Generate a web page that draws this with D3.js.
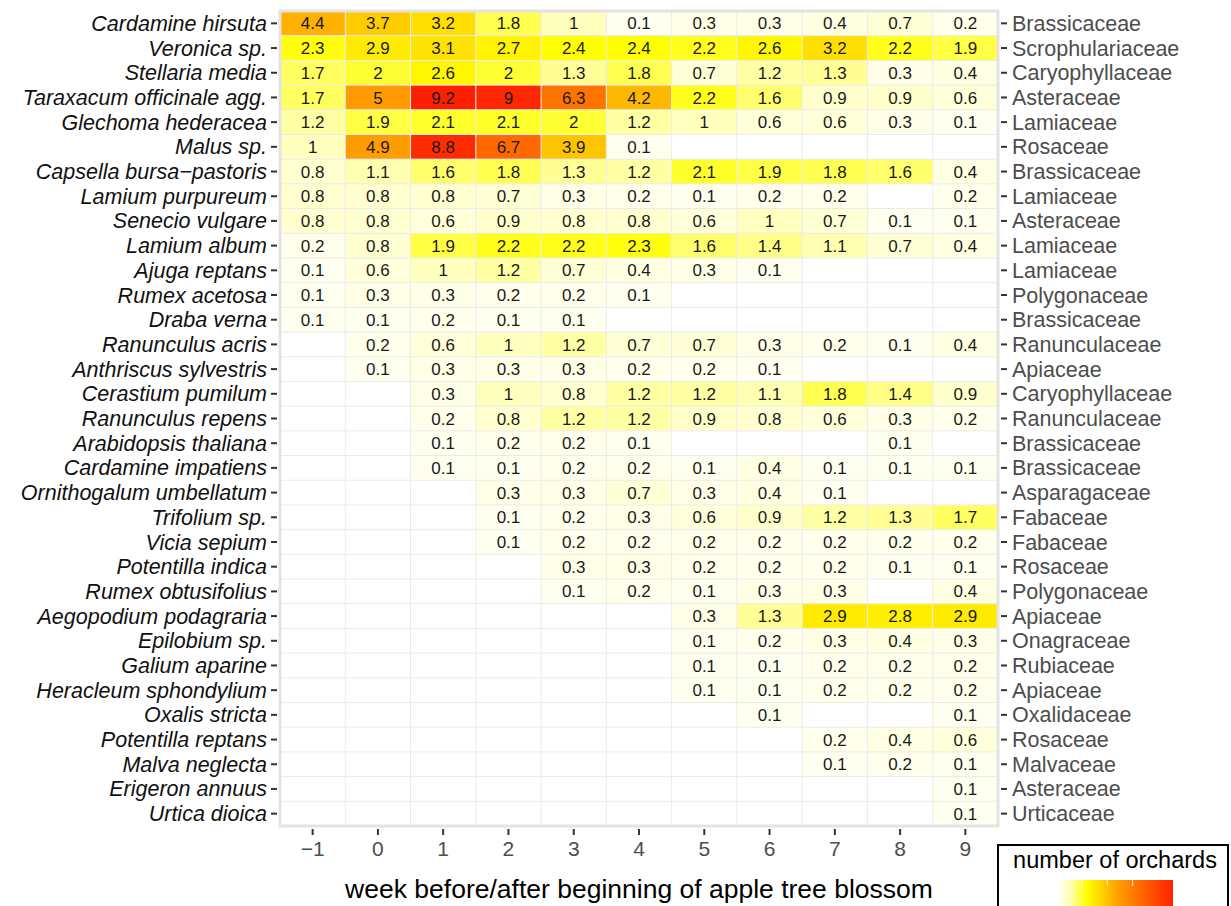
<!DOCTYPE html>
<html>
<head>
<meta charset="utf-8">
<script src="https://cdn.jsdelivr.net/npm/d3@7"></script>
<style>
    body { margin: 0; background: #fff; }
    svg { display: block; font-family: "Liberation Sans", Arial, sans-serif; }
    .species-label { font-style: italic; fill: #111111; }
    .family-label { fill: #4d4d4d; }
    .cell-label { fill: #1a1a1a; }
</style>
</head>
<body>
<div id="chart-area"></div>
<script>

// weeks relative to the beginning of apple tree blossom
const weeks = [-1, 0, 1, 2, 3, 4, 5, 6, 7, 8, 9];

const species = [
    "Cardamine hirsuta", "Veronica sp.", "Stellaria media", "Taraxacum officinale agg.",
    "Glechoma hederacea", "Malus sp.", "Capsella bursa\u2212pastoris", "Lamium purpureum",
    "Senecio vulgare", "Lamium album", "Ajuga reptans", "Rumex acetosa", "Draba verna",
    "Ranunculus acris", "Anthriscus sylvestris", "Cerastium pumilum", "Ranunculus repens",
    "Arabidopsis thaliana", "Cardamine impatiens", "Ornithogalum umbellatum", "Trifolium sp.",
    "Vicia sepium", "Potentilla indica", "Rumex obtusifolius", "Aegopodium podagraria",
    "Epilobium sp.", "Galium aparine", "Heracleum sphondylium", "Oxalis stricta",
    "Potentilla reptans", "Malva neglecta", "Erigeron annuus", "Urtica dioica"
];

const families = [
    "Brassicaceae", "Scrophulariaceae", "Caryophyllaceae", "Asteraceae",
    "Lamiaceae", "Rosaceae", "Brassicaceae", "Lamiaceae",
    "Asteraceae", "Lamiaceae", "Lamiaceae", "Polygonaceae", "Brassicaceae",
    "Ranunculaceae", "Apiaceae", "Caryophyllaceae", "Ranunculaceae",
    "Brassicaceae", "Brassicaceae", "Asparagaceae", "Fabaceae",
    "Fabaceae", "Rosaceae", "Polygonaceae", "Apiaceae",
    "Onagraceae", "Rubiaceae", "Apiaceae", "Oxalidaceae",
    "Rosaceae", "Malvaceae", "Asteraceae", "Urticaceae"
];

// mean number of orchards per species and week (null = not recorded)
const n = null;
const orchards = [
    [4.4, 3.7, 3.2, 1.8, 1, 0.1, 0.3, 0.3, 0.4, 0.7, 0.2],
    [2.3, 2.9, 3.1, 2.7, 2.4, 2.4, 2.2, 2.6, 3.2, 2.2, 1.9],
    [1.7, 2, 2.6, 2, 1.3, 1.8, 0.7, 1.2, 1.3, 0.3, 0.4],
    [1.7, 5, 9.2, 9, 6.3, 4.2, 2.2, 1.6, 0.9, 0.9, 0.6],
    [1.2, 1.9, 2.1, 2.1, 2, 1.2, 1, 0.6, 0.6, 0.3, 0.1],
    [1, 4.9, 8.8, 6.7, 3.9, 0.1, n, n, n, n, n],
    [0.8, 1.1, 1.6, 1.8, 1.3, 1.2, 2.1, 1.9, 1.8, 1.6, 0.4],
    [0.8, 0.8, 0.8, 0.7, 0.3, 0.2, 0.1, 0.2, 0.2, n, 0.2],
    [0.8, 0.8, 0.6, 0.9, 0.8, 0.8, 0.6, 1, 0.7, 0.1, 0.1],
    [0.2, 0.8, 1.9, 2.2, 2.2, 2.3, 1.6, 1.4, 1.1, 0.7, 0.4],
    [0.1, 0.6, 1, 1.2, 0.7, 0.4, 0.3, 0.1, n, n, n],
    [0.1, 0.3, 0.3, 0.2, 0.2, 0.1, n, n, n, n, n],
    [0.1, 0.1, 0.2, 0.1, 0.1, n, n, n, n, n, n],
    [n, 0.2, 0.6, 1, 1.2, 0.7, 0.7, 0.3, 0.2, 0.1, 0.4],
    [n, 0.1, 0.3, 0.3, 0.3, 0.2, 0.2, 0.1, n, n, n],
    [n, n, 0.3, 1, 0.8, 1.2, 1.2, 1.1, 1.8, 1.4, 0.9],
    [n, n, 0.2, 0.8, 1.2, 1.2, 0.9, 0.8, 0.6, 0.3, 0.2],
    [n, n, 0.1, 0.2, 0.2, 0.1, n, n, n, 0.1, n],
    [n, n, 0.1, 0.1, 0.2, 0.2, 0.1, 0.4, 0.1, 0.1, 0.1],
    [n, n, n, 0.3, 0.3, 0.7, 0.3, 0.4, 0.1, n, n],
    [n, n, n, 0.1, 0.2, 0.3, 0.6, 0.9, 1.2, 1.3, 1.7],
    [n, n, n, 0.1, 0.2, 0.2, 0.2, 0.2, 0.2, 0.2, 0.2],
    [n, n, n, n, 0.3, 0.3, 0.2, 0.2, 0.2, 0.1, 0.1],
    [n, n, n, n, 0.1, 0.2, 0.1, 0.3, 0.3, n, 0.4],
    [n, n, n, n, n, n, 0.3, 1.3, 2.9, 2.8, 2.9],
    [n, n, n, n, n, n, 0.1, 0.2, 0.3, 0.4, 0.3],
    [n, n, n, n, n, n, 0.1, 0.1, 0.2, 0.2, 0.2],
    [n, n, n, n, n, n, 0.1, 0.1, 0.2, 0.2, 0.2],
    [n, n, n, n, n, n, n, 0.1, n, n, 0.1],
    [n, n, n, n, n, n, n, n, 0.2, 0.4, 0.6],
    [n, n, n, n, n, n, n, n, 0.1, 0.2, 0.1],
    [n, n, n, n, n, n, n, n, n, n, 0.1],
    [n, n, n, n, n, n, n, n, n, n, 0.1]
];

// colour stops of the fill gradient
const colourStops = [0, 0.9, 2.4, 4.8, 9.2];
const colourRange = ["#fffff4", "#ffffcc", "#ffff00", "#ffa000", "#ff2000"];

// breaks marked inside the legend bar
const legendBreaks = [2, 4, 6];


class HeatMap {

    constructor(parentElement) {
        this.parentElement = parentElement;
        this.initVis();
    }

    initVis() {
        let vis = this;

        vis.margin = {top: 11, right: 233, bottom: 80, left: 280};
        vis.width = 1231 - vis.margin.left - vis.margin.right;
        vis.height = 906 - vis.margin.top - vis.margin.bottom;

        vis.root = d3.select("#" + vis.parentElement)
            .append("svg")
            .attr("width", 1231)
            .attr("height", 906);

        vis.svg = vis.root.append("g")
            .attr("transform", "translate(" + vis.margin.left + "," + vis.margin.top + ")");

        // Scales
        vis.x = d3.scaleBand()
            .domain(weeks)
            .range([0, vis.width]);

        vis.y = d3.scaleBand()
            .domain(d3.range(species.length))
            .range([0, vis.height]);

        vis.colour = d3.scaleLinear()
            .domain(colourStops)
            .range(colourRange)
            .interpolate(d3.interpolateRgb);

        vis.wrangleData();
    }

    wrangleData() {
        let vis = this;

        vis.cells = [];
        orchards.forEach(function (row, i) {
            row.forEach(function (v, j) {
                if (v !== null) vis.cells.push({row: i, week: weeks[j], value: v});
            });
        });

        vis.updateVis();
    }

    updateVis() {
        let vis = this;

        vis.svg.append("rect")
            .attr("width", vis.width)
            .attr("height", vis.height)
            .attr("fill", "#ffffff");

        let bw = vis.x.bandwidth(), bh = vis.y.bandwidth();

        // tiles
        vis.svg.selectAll(".tile")
            .data(vis.cells)
            .enter().append("rect")
            .attr("class", "tile")
            .attr("x", d => vis.x(d.week))
            .attr("y", d => vis.y(d.row))
            .attr("width", bw)
            .attr("height", bh)
            .attr("fill", d => vis.colour(d.value));

        // grid lines at the cell borders
        vis.svg.selectAll(".vgrid")
            .data(weeks.slice(1))
            .enter().append("line")
            .attr("class", "vgrid")
            .attr("x1", d => vis.x(d)).attr("x2", d => vis.x(d))
            .attr("y1", 0).attr("y2", vis.height)
            .attr("stroke", "#ebebeb")
            .attr("stroke-width", 1);

        vis.svg.selectAll(".hgrid")
            .data(d3.range(1, species.length))
            .enter().append("line")
            .attr("class", "hgrid")
            .attr("x1", 0).attr("x2", vis.width)
            .attr("y1", d => vis.y(d)).attr("y2", d => vis.y(d))
            .attr("stroke", "#ebebeb")
            .attr("stroke-width", 1);

        // cell labels
        vis.svg.selectAll(".cell-label")
            .data(vis.cells)
            .enter().append("text")
            .attr("class", "cell-label")
            .attr("x", d => vis.x(d.week) + bw / 2)
            .attr("y", d => vis.y(d.row) + bh / 2)
            .attr("dy", ".36em")
            .attr("text-anchor", "middle")
            .attr("font-size", 17)
            .text(d => d.value);

        // panel border
        vis.svg.append("rect")
            .attr("width", vis.width)
            .attr("height", vis.height)
            .attr("fill", "none")
            .attr("stroke", "#e3e3e3")
            .attr("stroke-width", 3);

        // Axes
        let yLeft = d3.axisLeft(vis.y)
            .tickSize(6)
            .tickPadding(4)
            .tickFormat(i => species[i]);

        let yRight = d3.axisRight(vis.y)
            .tickSize(6)
            .tickPadding(5)
            .tickFormat(i => families[i]);

        let xAxis = d3.axisBottom(vis.x)
            .tickSize(6)
            .tickPadding(6)
            .tickFormat(d => d < 0 ? "\u2212" + Math.abs(d) : d);

        let gl = vis.svg.append("g")
            .attr("class", "y-axis axis")
            .attr("transform", "translate(-3,0)")
            .call(yLeft);
        gl.selectAll("text").attr("class", "species-label").attr("font-size", 21.5).attr("dy", ".35em");

        let gr = vis.svg.append("g")
            .attr("class", "y-axis axis")
            .attr("transform", "translate(" + (vis.width + 3) + ",0)")
            .call(yRight);
        gr.selectAll("text").attr("class", "family-label").attr("font-size", 21.5).attr("dy", ".35em");

        let gx = vis.svg.append("g")
            .attr("class", "x-axis axis")
            .attr("transform", "translate(0," + (vis.height + 3) + ")")
            .call(xAxis);
        gx.selectAll("text").attr("fill", "#4d4d4d").attr("font-size", 21);

        vis.svg.selectAll(".axis .domain").remove();
        vis.svg.selectAll(".axis .tick line").attr("stroke", "#333333").attr("stroke-width", 2);

        // x axis title
        vis.svg.append("text")
            .attr("x", vis.width / 2)
            .attr("y", vis.height + 72)
            .attr("text-anchor", "middle")
            .attr("font-size", 26.5)
            .attr("fill", "#000")
            .text("week before/after beginning of apple tree blossom");

        vis.drawLegend();
    }

    drawLegend() {
        let vis = this;

        let lg = vis.root.append("g")
            .attr("class", "legend");

        lg.append("rect")
            .attr("x", 998)
            .attr("y", 845)
            .attr("width", 230)
            .attr("height", 80)
            .attr("fill", "#fff")
            .attr("stroke", "#000")
            .attr("stroke-width", 2);

        lg.append("text")
            .attr("x", 1115)
            .attr("y", 868)
            .attr("text-anchor", "middle")
            .attr("font-size", 23.5)
            .attr("fill", "#000")
            .text("number of orchards");

        let maxVal = d3.max(vis.cells, d => d.value);
        let minVal = d3.min(vis.cells, d => d.value);

        let grad = vis.root.append("defs").append("linearGradient")
            .attr("id", "legend-gradient");
        d3.range(0, 1.0001, 0.05).forEach(function (t) {
            grad.append("stop")
                .attr("offset", t)
                .attr("stop-color", vis.colour(minVal + t * (maxVal - minVal)));
        });

        let lx = d3.scaleLinear().domain([minVal, maxVal]).range([1058, 1173]);

        lg.append("rect")
            .attr("x", lx(minVal))
            .attr("y", 880)
            .attr("width", lx(maxVal) - lx(minVal))
            .attr("height", 30)
            .attr("fill", "url(#legend-gradient)");

        // white ticks inside the colour bar
        lg.selectAll(".legend-tick")
            .data(legendBreaks)
            .enter().append("line")
            .attr("class", "legend-tick")
            .attr("x1", d => lx(d)).attr("x2", d => lx(d))
            .attr("y1", 880).attr("y2", 886)
            .attr("stroke", "#fff")
            .attr("stroke-opacity", 0.8)
            .attr("stroke-width", 1);
    }
}

new HeatMap("chart-area");

</script>
</body>
</html>
